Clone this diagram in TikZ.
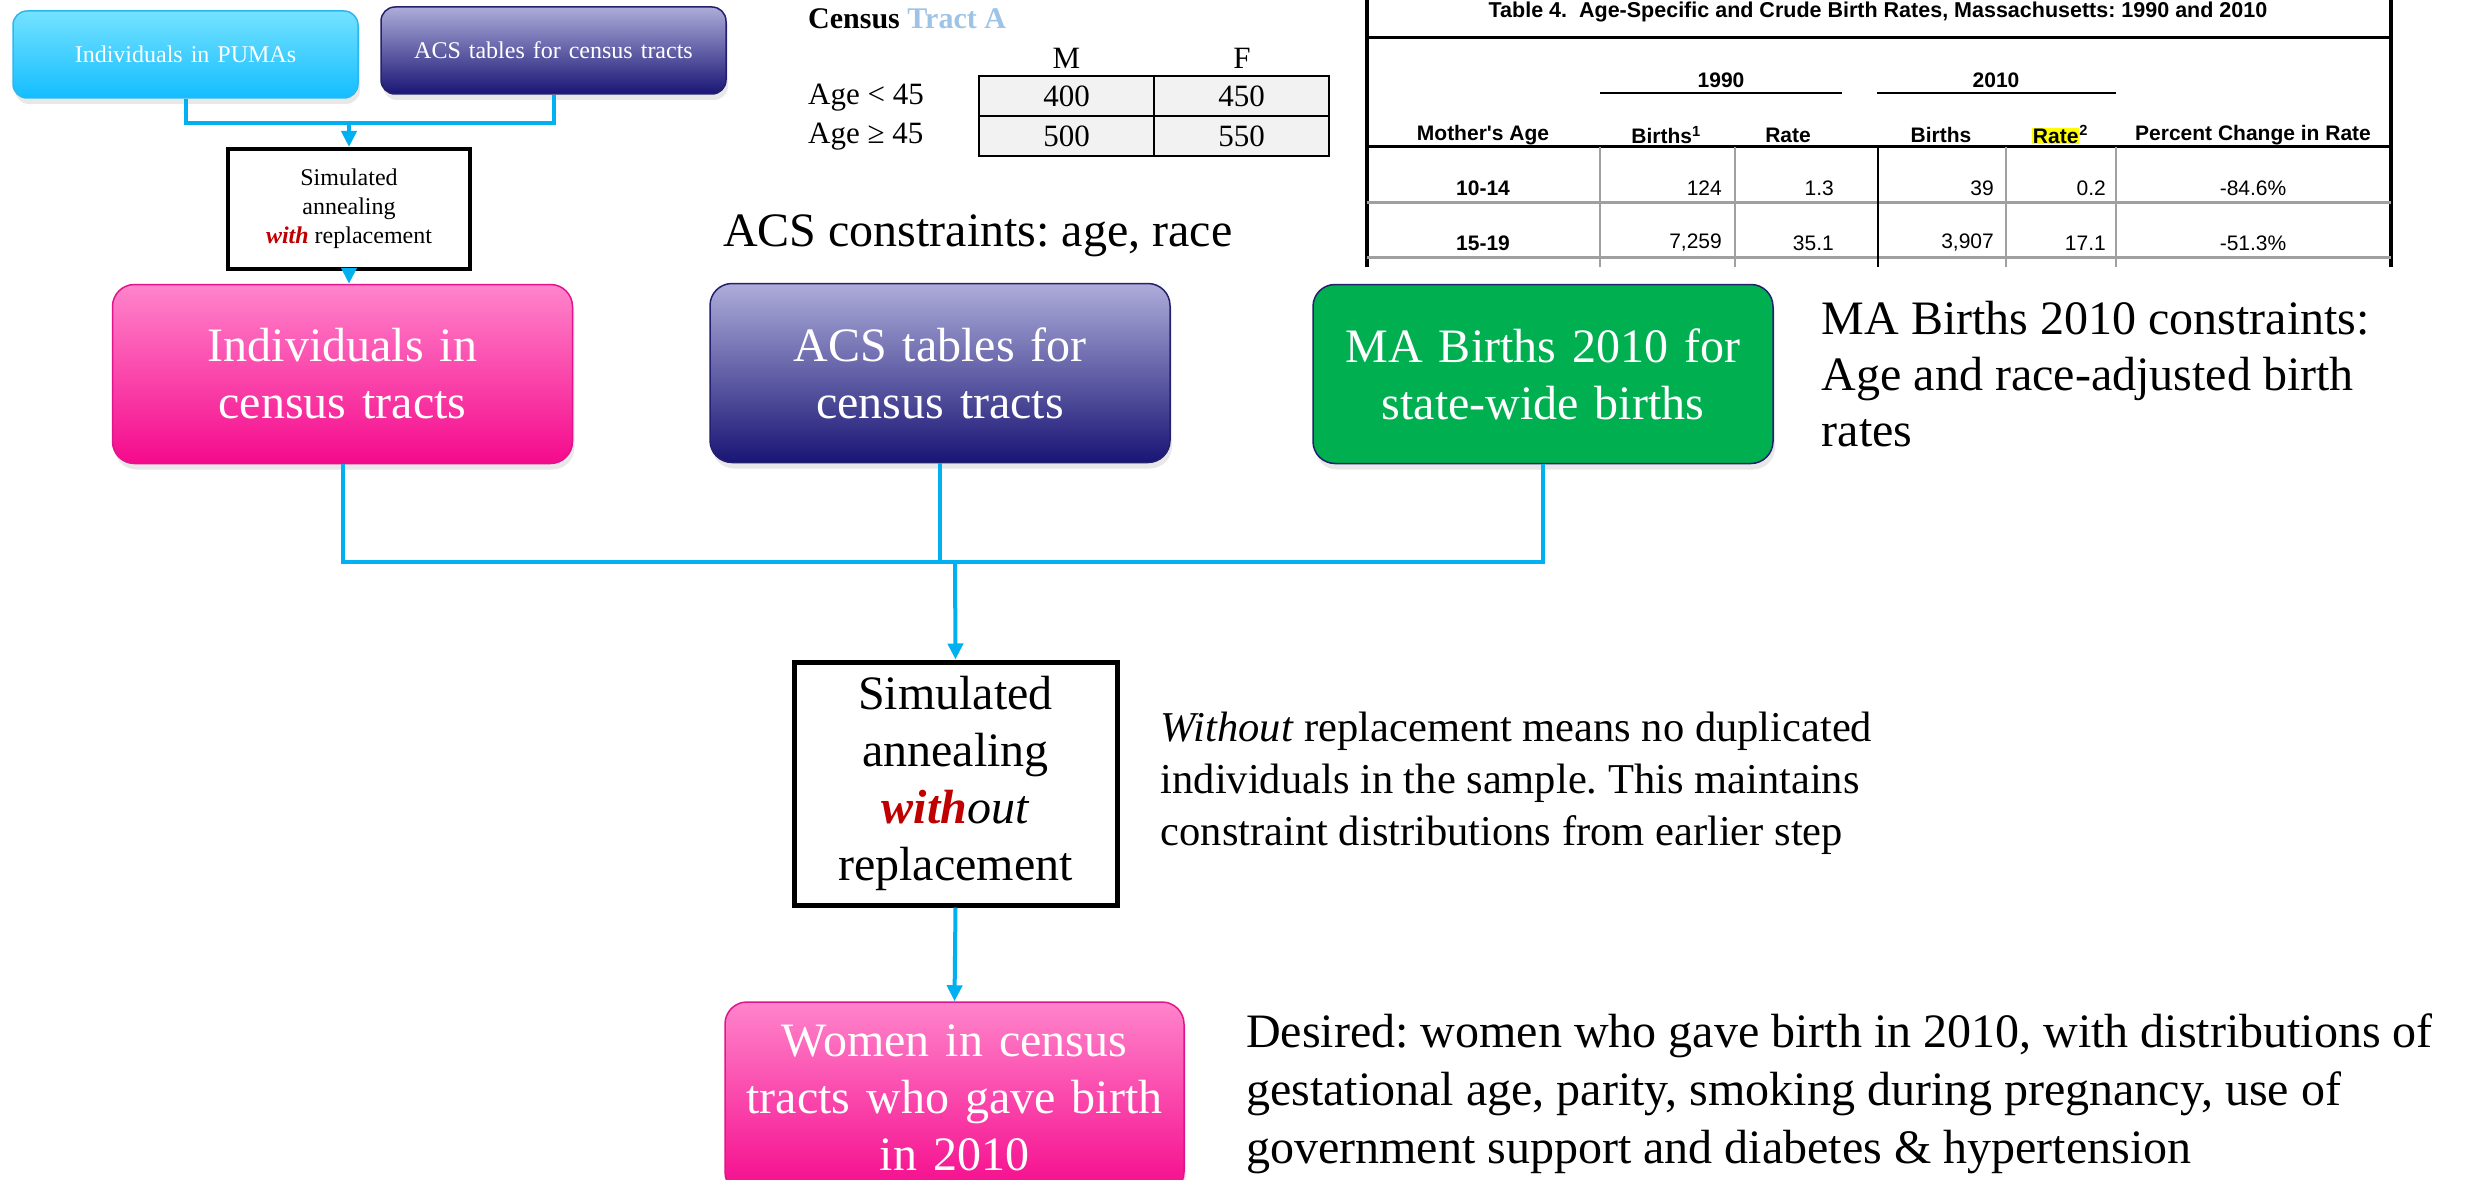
\documentclass[tikz,border=0pt]{standalone}
\usepackage{fontspec}
\setmainfont{Liberation Serif}
\newfontfamily\tabfont{Liberation Sans}
\usepackage{xcolor}
\usepackage{tikz}
\usetikzlibrary{positioning, arrows.meta, calc, shadows}
\frenchspacing

\definecolor{linkblue}{HTML}{00B0F0}
\definecolor{cyantop}{HTML}{74E2FF}
\definecolor{cyanbot}{HTML}{14BDFF}
\definecolor{cyanline}{HTML}{2BB8F0}
\definecolor{purptop}{HTML}{ADACD9}
\definecolor{purpbot}{HTML}{191575}
\definecolor{purpline}{HTML}{24206E}
\definecolor{pinktop}{HTML}{FF84CB}
\definecolor{pinkbot}{HTML}{F50A8C}
\definecolor{pinkline}{HTML}{E0158A}
\definecolor{birthgreen}{HTML}{00B050}
\definecolor{withred}{HTML}{C00000}
\definecolor{tractblue}{HTML}{9DC3E6}
\definecolor{cellgray}{HTML}{F2F2F2}
\definecolor{rulegray}{HTML}{A0A0A0}
\definecolor{marker}{HTML}{FFFF00}

\begin{document}
\begin{tikzpicture}[
    x=1pt, y=-1pt,
    flowbox/.style={
        rectangle,
        rounded corners=22pt,
        line width=1.5pt,
        text=white,
        align=center,
        inner sep=0pt,
        minimum width=460pt,
        minimum height=179pt,
        text width=440pt,
        font=\fontsize{48}{57}\selectfont,
        drop shadow={shadow xshift=2pt, shadow yshift=-6pt, opacity=0.18}
    },
    pinkbox/.style={flowbox, draw=pinkline, top color=pinktop, bottom color=pinkbot},
    purplebox/.style={flowbox, draw=purpline, top color=purptop, bottom color=purpbot},
    greenbox/.style={flowbox, draw=purpline, fill=birthgreen},
    smallbox/.style={
        rounded corners=14pt,
        minimum width=345pt,
        minimum height=87pt,
        text width=335pt,
        font=\fontsize{24}{29}\selectfont
    },
    annealbox/.style={
        rectangle,
        draw=black,
        fill=white,
        line width=5pt,
        align=center,
        inner sep=0pt,
        font=\fontsize{48}{57}\selectfont
    },
    notetext/.style={align=left, inner sep=0pt, anchor=west, font=\fontsize{48}{56}\selectfont},
    cellbox/.style={draw=black, line width=2pt, fill=cellgray, minimum width=175pt,
        minimum height=40pt, inner sep=0pt, font=\fontsize{31}{34}\selectfont},
    tabhead/.style={inner sep=0pt, font=\tabfont\bfseries\fontsize{21}{24}\selectfont},
    tabval/.style={inner sep=0pt, anchor=east, font=\tabfont\fontsize{21}{24}\selectfont},
    flowline/.style={draw=linkblue, line width=4pt},
    flowarrow/.style={flowline, -{Triangle[length=16pt, width=15pt]}}
]
\useasboundingbox (0,0) rectangle (2465,1180);

% first stage
\node[flowbox, smallbox, draw=cyanline, top color=cyantop, bottom color=cyanbot] (pumas) at (185.5,54.5) {Individuals in PUMAs};
\node[purplebox, smallbox] (acssmall) at (553.5,50.5) {ACS tables for census tracts};
\node[annealbox, line width=4pt, minimum width=242pt, minimum height=120pt, font=\fontsize{24}{29}\selectfont] (annealwith) at (349,209) {
    Simulated\\annealing\\\textcolor{withred}{\textbf{\textit{with}}} replacement
};

% second stage
\node[pinkbox] (tracts) at (342.5,374) {Individuals in\\census tracts};
\node[purplebox] (acsbig) at (940,373) {ACS tables for\\census tracts};
\node[greenbox] (births) at (1543,374) {MA Births 2010 for\\state-wide births};
\node[annealbox, minimum width=323pt, minimum height=243pt] (annealwithout) at (955.5,783.5) {
    Simulated\\annealing\\\textcolor{withred}{\textbf{\textit{with}}}\textit{out}\\replacement
};
\node[pinkbox, minimum width=459pt, minimum height=192pt] (women) at (954.5,1098) {
    Women in census\\tracts who gave birth\\in 2010
};

% notes
\node[notetext] (acsnote) at (723,236) {ACS constraints: age, race};
\node[notetext, right=48pt of births] (birthnote) {MA Births 2010 constraints:\\Age and race-adjusted birth\\rates};
\node[notetext, right=41pt of annealwithout, font=\fontsize{42.5}{52}\selectfont] (withoutnote) {
    \textit{Without} replacement means no duplicated\\individuals in the sample. This maintains\\constraint distributions from earlier step
};
\node[notetext, font=\fontsize{48}{58}\selectfont] (desirednote) at (1246,1094) {
    Desired: women who gave birth in 2010, with distributions of\\gestational age, parity, smoking during pregnancy, use of\\government support and diabetes \& hypertension
};

% census tract example
\node[anchor=west, inner sep=0pt, font=\fontsize{30}{34}\selectfont\bfseries] (tracttitle) at (808,19) {Census \textcolor{tractblue}{Tract A}};
\node[inner sep=0pt, font=\fontsize{31}{34}\selectfont] (colmale) at (1066.5,58) {M};
\node[inner sep=0pt, font=\fontsize{31}{34}\selectfont] (colfemale) at (1242,58) {F};
\node[cellbox] (youngmale) at (1066.5,96) {400};
\node[cellbox] (youngfemale) at (1241.5,96) {450};
\node[cellbox] (oldmale) at (1066.5,136) {500};
\node[cellbox] (oldfemale) at (1241.5,136) {550};
\node[anchor=west, inner sep=0pt, font=\fontsize{31}{34}\selectfont] (rowyoung) at (808,98) {Age < 45};
\node[anchor=west, inner sep=0pt, font=\fontsize{31}{34}\selectfont] (rowold) at (808,137) {Age ≥ 45};

% birth rate table (cropped)
\draw[line width=4pt] (1367,-5) -- (1367,267);
\draw[line width=4pt] (2391,-5) -- (2391,267);
\draw[line width=3pt] (1367,38) -- (2391,38);
\draw[line width=3pt] (1367,147) -- (2391,147);
\draw[line width=2.5pt] (1600,93) -- (1842,93);
\draw[line width=2.5pt] (1877,93) -- (2116,93);
\draw[rulegray, line width=3pt] (1367,202) -- (2391,202);
\draw[rulegray, line width=3pt] (1367,257) -- (2391,257);
\draw[rulegray, line width=1.5pt] (1600,147) -- (1600,267);
\draw[rulegray, line width=1.5pt] (1735,147) -- (1735,267);
\draw[line width=2pt] (1878,147) -- (1878,267);
\draw[rulegray, line width=1.5pt] (2006,147) -- (2006,267);
\draw[rulegray, line width=1.5pt] (2116,147) -- (2116,267);

\node[tabhead, font=\tabfont\bfseries\fontsize{21.5}{24}\selectfont] (tabtitle) at (1878,12) {Table 4.\ \ Age-Specific and Crude Birth Rates, Massachusetts: 1990 and 2010};
\node[tabhead] (yearold) at (1721,80) {1990};
\node[tabhead] (yearnew) at (1996,80) {2010};
\node[tabhead] (hdage) at (1483,135) {Mother's Age};
\node[tabhead] (hdbirthsold) at (1666,135) {Births\textsuperscript{1}};
\node[tabhead] (hdrateold) at (1788,135) {Rate};
\node[tabhead] (hdbirthsnew) at (1941,135) {Births};
\node[tabhead] (hdratenew) at (2060,135) {{\setlength{\fboxsep}{1pt}\colorbox{marker}{Rate}}\textsuperscript{2}};
\node[tabhead] (hdchange) at (2253,135) {Percent Change in Rate};

\node[tabhead] (agelow) at (1483,188) {10-14};
\node[tabval] (birthslowold) at (1722,188) {124};
\node[tabval] (ratelowold) at (1834,188) {1.3};
\node[tabval] (birthslownew) at (1994,188) {39};
\node[tabval] (ratelownew) at (2106,188) {0.2};
\node[tabval, anchor=center] (changelow) at (2253,188) {-84.6\%};
\node[tabhead] (agehigh) at (1483,243) {15-19};
\node[tabval] (birthshighold) at (1722,243) {7,259};
\node[tabval] (ratehighold) at (1834,243) {35.1};
\node[tabval] (birthshighnew) at (1994,243) {3,907};
\node[tabval] (ratehighnew) at (2106,243) {17.1};
\node[tabval, anchor=center] (changehigh) at (2253,243) {-51.3\%};

% connectors
\coordinate (mergetop) at (349,123);
\coordinate (mergemain) at (955,562);
\draw[flowline] (pumas.south) |- (mergetop) -| (acssmall.south);
\draw[flowarrow] (mergetop) -- (annealwith.north);
\draw[flowarrow] (annealwith.south) -- (annealwith.south |- tracts.north);
\draw[flowline] (tracts.south) |- (mergemain) -| (births.south);
\draw[flowline] (acsbig.south) -- (acsbig.south |- mergemain);
\draw[flowarrow] (mergemain) -- (annealwithout.north);
\draw[flowarrow] (annealwithout.south) -- (women.north);

\end{tikzpicture}
\end{document}
